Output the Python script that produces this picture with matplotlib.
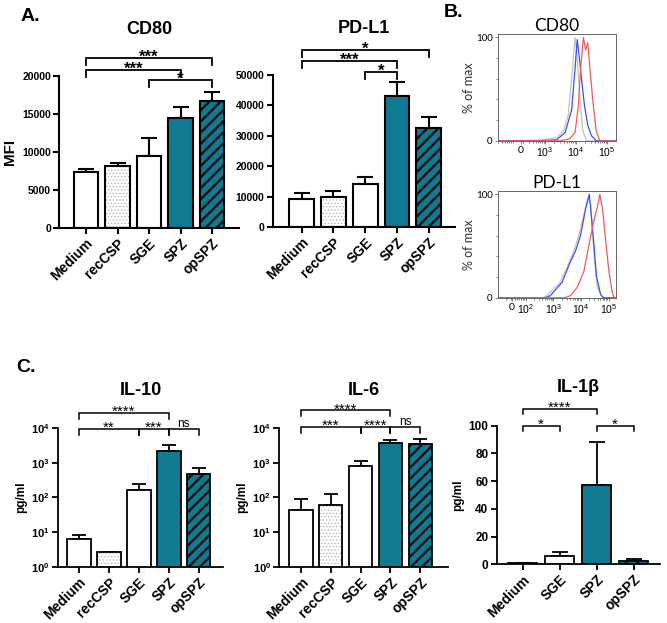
import numpy as np
import matplotlib
matplotlib.use('Agg')
import matplotlib.pyplot as plt

plt.rcParams['font.family'] = ['Liberation Sans', 'DejaVu Sans']
plt.rcParams['mathtext.fontset'] = 'custom'
plt.rcParams['mathtext.rm'] = 'Liberation Sans'
plt.rcParams['mathtext.bf'] = 'Liberation Sans:bold'

# --- 数据 ---
groups5 = ['Medium', 'recCSP', 'SGE', 'SPZ', 'opSPZ']
groups4 = ['Medium', 'SGE', 'SPZ', 'opSPZ']

cd80_mean = [7340, 8220, 9540, 14420, 16660]
cd80_top = [7820, 8530, 11850, 15870, 17890]
pdl1_mean = [9080, 9740, 14000, 42900, 32400]
pdl1_top = [11050, 11930, 16400, 47500, 36000]

il10_mean = [6.2, 2.7, 165, 2260, 480]
il10_top = [8.0, 2.7, 250, 3370, 700]
il6_mean = [42, 61, 820, 3690, 3530]
il6_top = [88, 125, 1140, 4600, 4900]
il1b_mean = [0.7, 6.3, 57.5, 2.2]
il1b_top = [1.2, 9.1, 88, 3.6]

# 显著性标记: (组i, 组j, 高度(轴比例), 文字)
cd80_sig = [(0, 4, 1.117, '***'), (0, 3, 1.039, '***'), (2, 4, 0.974, '*')]
pdl1_sig = [(0, 4, 1.162, '*'), (0, 3, 1.088, '***'), (2, 3, 1.016, '*')]
il10_sig = [(0, 3, 1.109, '****'), (0, 2, 0.997, '**'), (2, 3, 0.997, '***'), (3, 4, 0.997, 'ns')]
il6_sig = [(0, 3, 1.128, '****'), (0, 2, 1.009, '***'), (2, 3, 1.009, '****'), (3, 4, 1.009, 'ns')]
il1b_sig = [(0, 2, 1.123, '****'), (0, 1, 1.0, '*'), (2, 3, 1.0, '*')]

# 流式直方图 (x: 十进位位置, y: % of max)
cd80_grey_x = [1.4, 2.8, 3.38, 3.6, 3.75, 3.86, 3.97, 4.04, 4.13, 4.22, 4.34, 5.4]
cd80_grey_y = [0, 0.5, 3, 10, 25, 60, 100, 80, 40, 10, 0, 0]
cd80_blue_x = [1.4, 3.0, 3.38, 3.65, 3.86, 3.97, 4.04, 4.11, 4.18, 4.27, 4.38, 4.5, 4.65, 5.4]
cd80_blue_y = [0, 0.3, 1, 8, 30, 70, 98, 80, 60, 35, 15, 5, 0, 0]
cd80_red_x = [1.4, 3.5, 3.8, 3.97, 4.08, 4.15, 4.24, 4.31, 4.38, 4.45, 4.54, 4.65, 4.77, 5.4]
cd80_red_y = [0, 0, 2, 8, 35, 70, 100, 88, 95, 70, 40, 10, 0, 0]

pdl1_grey_x = [0.9, 2.6, 2.77, 3.25, 3.5, 3.74, 3.92, 4.1, 4.25, 4.35, 4.47, 4.59, 4.77, 5.4]
pdl1_grey_y = [0, 0, 2, 15, 30, 45, 60, 80, 97, 90, 40, 10, 0, 0]
pdl1_blue_x = [0.9, 2.7, 2.89, 3.32, 3.62, 3.8, 3.98, 4.16, 4.3, 4.37, 4.47, 4.56, 4.71, 4.83, 5.4]
pdl1_blue_y = [0, 0, 2, 15, 35, 45, 60, 85, 100, 80, 50, 20, 3, 0, 0]
pdl1_red_x = [0.9, 3.4, 3.62, 3.86, 4.1, 4.28, 4.47, 4.61, 4.68, 4.78, 4.89, 5.01, 5.13, 5.2, 5.4]
pdl1_red_y = [0, 0, 2, 10, 25, 50, 75, 90, 100, 85, 55, 25, 5, 0, 0]

teal = '#0f7a92'


def draw_bars(ax, groups, means, tops, styles, lw=1.5, bw=0.78, cap=6):
    x = np.arange(len(groups))
    up = [t - m for t, m in zip(tops, means)]
    ax.errorbar(x, means, yerr=[np.zeros(len(x)), up], fmt='none', ecolor='black',
                elinewidth=lw, capsize=cap, capthick=lw, zorder=1)
    for xi, m, st in zip(x, means, styles):
        if st == 'dots':
            with plt.rc_context({'hatch.linewidth': 0.5}):
                ax.bar(xi, m, bw, color='white', edgecolor='#b0b0b0', hatch='.....', linewidth=0, zorder=2)
            ax.bar(xi, m, bw, color='none', edgecolor='black', linewidth=lw, zorder=3)
        elif st == 'stripes':
            with plt.rc_context({'hatch.linewidth': 1.7}):
                ax.bar(xi, m, bw, color=teal, edgecolor='#111111', hatch='///', linewidth=0, zorder=2)
            ax.bar(xi, m, bw, color='none', edgecolor='black', linewidth=lw, zorder=3)
        elif st == 'teal':
            ax.bar(xi, m, bw, color=teal, edgecolor='black', linewidth=lw, zorder=2)
        else:
            ax.bar(xi, m, bw, color='white', edgecolor='black', linewidth=lw, zorder=2)
    ax.set_xticks(x)
    ax.set_xticklabels(groups, rotation=45, ha='right', rotation_mode='anchor',
                       fontsize=10, fontweight='bold')
    for s in ['top', 'right']:
        ax.spines[s].set_visible(False)
    for s in ['left', 'bottom']:
        ax.spines[s].set_linewidth(lw)
    ax.tick_params(axis='both', direction='out', width=lw, length=4, pad=2)
    ax.tick_params(axis='y', labelsize=7.5)
    for t in ax.get_yticklabels():
        t.set_fontweight('bold')


def draw_sig(ax, sig, fs=12, lw=1.3, drop=0.046, weight='bold'):
    tr = ax.get_xaxis_transform()
    for i, j, h, txt in sig:
        ax.plot([i, i, j, j], [h - drop, h, h, h - drop], color='black', lw=lw,
                transform=tr, clip_on=False, solid_joinstyle='miter')
        if txt == 'ns':
            ax.annotate(txt, ((i + j) / 2, h), xycoords=tr, xytext=(0, 1.5), textcoords='offset points',
                        ha='center', va='baseline', fontsize=8.5, annotation_clip=False)
        else:
            ax.annotate(txt, ((i + j) / 2, h), xycoords=tr, xytext=(0, -0.2 * fs), textcoords='offset points',
                        ha='center', va='baseline', fontsize=fs, fontweight=weight, annotation_clip=False)


fig = plt.figure(figsize=(6.67, 6.23), dpi=100)

styles5 = ['white', 'dots', 'white', 'teal', 'stripes']
styles4 = ['white', 'white', 'teal', 'stripes']

# --- A. CD80 ---
ax = fig.add_axes([0.0889, 0.634, 0.270, 0.244])
draw_bars(ax, groups5, cd80_mean, cd80_top, styles5)
ax.set_xlim(-0.85, 4.87)
ax.set_ylim(0, 20000)
ax.set_yticks([0, 5000, 10000, 15000, 20000])
for t in ax.get_yticklabels():
    t.set_fontweight('bold')
ax.set_ylabel('MFI', fontsize=11, fontweight='bold', labelpad=4)
ax.set_title('CD80', fontsize=13, fontweight='bold', pad=30)
draw_sig(ax, cd80_sig)

# --- A. PD-L1 ---
ax = fig.add_axes([0.409, 0.6356, 0.273, 0.2445])
draw_bars(ax, groups5, pdl1_mean, pdl1_top, styles5)
ax.set_xlim(-0.91, 4.82)
ax.set_ylim(0, 50000)
ax.set_yticks([0, 10000, 20000, 30000, 40000, 50000])
for t in ax.get_yticklabels():
    t.set_fontweight('bold')
ax.set_title('PD-L1', fontsize=13, fontweight='bold', pad=30)
draw_sig(ax, pdl1_sig)

# --- B. 直方图 ---
hist_specs = [
    ([0.746, 0.774, 0.177, 0.1708], 'CD80', (1.47, 5.28), [2.23, 3, 4, 5], ['0', '$10^3$', '$10^4$', '$10^5$'],
     [(cd80_grey_x, cd80_grey_y, '#c4c4c4'), (cd80_blue_x, cd80_blue_y, '#3f51f0'), (cd80_red_x, cd80_red_y, '#f05a5a')]),
    ([0.746, 0.522, 0.177, 0.1713], 'PD-L1', (0.99, 5.25), [1.5, 2, 3, 4, 5], ['0', '$10^2$', '$10^3$', '$10^4$', '$10^5$'],
     [(pdl1_grey_x, pdl1_grey_y, '#c4c4c4'), (pdl1_blue_x, pdl1_blue_y, '#3f51f0'), (pdl1_red_x, pdl1_red_y, '#f05a5a')]),
]
for rect, title, xl, ticks, tlabels, curves in hist_specs:
    ax = fig.add_axes(rect)
    for cx, cy, c in curves:
        ax.plot(cx, cy, color=c, lw=0.9)
    ax.set_xlim(*xl)
    ax.set_ylim(0, 103)
    ax.set_xticks(ticks)
    ax.set_xticklabels(tlabels, fontsize=7.5, family=['Lato', 'DejaVu Sans'])
    minor = [d + np.log10(k) for d in range(1, 6) for k in range(2, 10) if xl[0] < d + np.log10(k) < xl[1]]
    ax.set_xticks(minor, minor=True)
    ax.set_yticks([0, 100])
    ax.set_yticks([20, 40, 60, 80], minor=True)
    ax.set_yticklabels(['0', '100'], fontsize=7, family=['Lato', 'DejaVu Sans'])
    ax.tick_params(which='both', direction='out', length=2, width=0.6, color='#666666', pad=1.5)
    ax.tick_params(which='minor', length=1.5)
    for s in ax.spines.values():
        s.set_linewidth(0.7)
        s.set_color('#666666')
    ax.set_ylabel('% of max', fontsize=9, family=['Lato', 'DejaVu Sans'], labelpad=1, color='#333333')
    ax.set_title(title, fontsize=12.5, family=['Lato', 'DejaVu Sans'], pad=2)

# --- C. 细胞因子 ---
def log_labels(ax):
    ax.set_yscale('log')
    ax.set_ylim(1, 1e4)
    ax.set_yticks([1, 10, 100, 1000, 10000])
    ax.set_yticklabels([r'$\mathbf{10^{%d}}$' % k for k in range(5)], fontsize=8)
    ax.yaxis.set_minor_locator(matplotlib.ticker.NullLocator())


ax = fig.add_axes([0.0874, 0.0904, 0.247, 0.2222])
draw_bars(ax, groups5, il10_mean, il10_top, styles5, lw=1.3, cap=5)
log_labels(ax)
ax.set_xlim(-0.69, 4.81)
ax.set_ylabel('pg/ml', fontsize=8.5, fontweight='bold', labelpad=3)
ax.set_title('IL-10', fontsize=13, fontweight='bold', pad=24)
draw_sig(ax, il10_sig, fs=11, lw=1.1, drop=0.044, weight='normal')

ax = fig.add_axes([0.4188, 0.0904, 0.253, 0.2226])
draw_bars(ax, groups5, il6_mean, il6_top, styles5, lw=1.3, cap=5)
log_labels(ax)
ax.set_xlim(-0.73, 4.94)
ax.set_ylabel('pg/ml', fontsize=8.5, fontweight='bold', labelpad=3)
ax.set_title('IL-6', fontsize=13, fontweight='bold', pad=24)
draw_sig(ax, il6_sig, fs=11, lw=1.1, drop=0.044, weight='normal')

ax = fig.add_axes([0.7447, 0.0942, 0.245, 0.2225])
draw_bars(ax, groups4, il1b_mean, il1b_top, styles4, lw=1.3, bw=0.8, cap=6)
ax.set_xlim(-0.70, 3.72)
ax.set_ylim(0, 100)
ax.set_yticks([0, 20, 40, 60, 80, 100])
for t in ax.get_yticklabels():
    t.set_fontweight('bold')
    t.set_fontsize(8.5)
ax.set_ylabel('pg/ml', fontsize=8.5, fontweight='bold', labelpad=3)
ax.set_title('IL-1β', fontsize=13, fontweight='bold', pad=24)
draw_sig(ax, il1b_sig, fs=11, lw=1.1, drop=0.04, weight='normal')

# 面板字母
fig.text(0.031, 0.973, 'A.', fontsize=14, fontweight='bold', va='center')
fig.text(0.665, 0.98, 'B.', fontsize=14, fontweight='bold', va='center')
fig.text(0.025, 0.41, 'C.', fontsize=14, fontweight='bold', va='center')

fig.savefig('out.png', dpi=100)
